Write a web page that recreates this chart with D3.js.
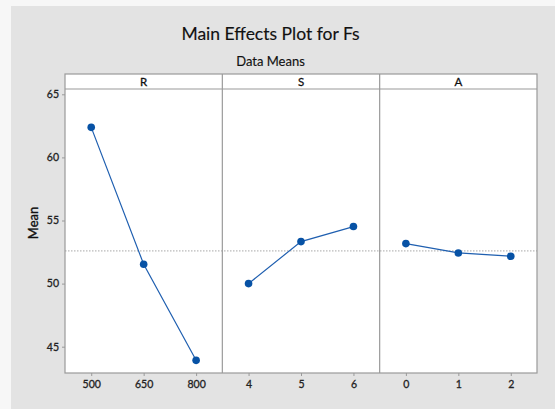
<!DOCTYPE html>
<html><head><meta charset="utf-8">
<script src="https://cdn.jsdelivr.net/npm/d3@7"></script>
<style>body{margin:0;background:#fff;}svg{display:block;}</style>
</head><body>
<script>
const factors = ["R", "S", "A"];
const levelsR = ["500", "650", "800"];
const levelsS = ["4", "5", "6"];
const levelsA = ["0", "1", "2"];
const meansR = [62.38, 51.53, 43.92];
const meansS = [50.00, 53.33, 54.52];
const meansA = [53.17, 52.43, 52.17];
const grandMean = 52.59;
const yTicks = [45, 50, 55, 60, 65];

(function(){
const W = 555, H = 409;
const svg = d3.select("body").append("svg").attr("width", W).attr("height", H);
svg.append("rect").attr("x", 0).attr("y", 0).attr("width", W).attr("height", H).attr("fill", "#f7f7f7");
svg.append("rect").attr("x", 11).attr("y", 6).attr("width", W - 11).attr("height", H - 6).attr("fill", "#e3e3e3");

const font = "Lato, sans-serif";
const pL = 65, pR = 537, pT = 74, stripB = 89, pB = 373;
const y = d3.scaleLinear().domain([42.916, 65.42]).range([pB, stripB]);
const panelX = d3.scaleBand().domain(factors).range([pL, pR]);

svg.append("text").attr("x", 270.5).attr("y", 40).attr("text-anchor", "middle")
  .attr("font-family", font).attr("font-size", 17.5).attr("fill", "#111")
  .attr("stroke", "#111").attr("stroke-width", 0.15).text("Main Effects Plot for Fs");
svg.append("text").attr("x", 270.5).attr("y", 66).attr("text-anchor", "middle")
  .attr("font-family", font).attr("font-size", 13).attr("fill", "#111")
  .attr("stroke", "#111").attr("stroke-width", 0.15).text("Data Means");

svg.append("rect").attr("x", pL).attr("y", pT).attr("width", pR - pL).attr("height", pB - pT).attr("fill", "#fff");

const data = [
  {f: "R", levels: levelsR, means: meansR},
  {f: "S", levels: levelsS, means: meansS},
  {f: "A", levels: levelsA, means: meansA}
];

svg.append("line").attr("x1", pL).attr("x2", pR).attr("y1", y(grandMean)).attr("y2", y(grandMean))
  .attr("stroke", "#a8a8a8").attr("stroke-width", 1).attr("stroke-dasharray", "1.5,1.5");

data.forEach(d => {
  const x0 = panelX(d.f), bw = panelX.bandwidth();
  const x = d3.scalePoint().domain(d.levels).range([x0, x0 + bw]).padding(0.5);
  const pts = d.levels.map((l, i) => [x(l), y(d.means[i])]);
  svg.append("path").attr("d", d3.line()(pts)).attr("fill", "none").attr("stroke", "#1f5fb0").attr("stroke-width", 1.2);
  svg.selectAll(null).data(pts).enter().append("circle")
    .attr("cx", p => p[0]).attr("cy", p => p[1]).attr("r", 3.8).attr("fill", "#0752a5");
  const ax = svg.append("g").attr("transform", `translate(0,${pB})`)
    .call(d3.axisBottom(x).tickSize(3).tickPadding(5));
  ax.select(".domain").remove();
  ax.selectAll("line").attr("stroke", "#999");
  ax.selectAll("text").attr("font-family", font).attr("font-size", 10.5).attr("fill", "#222")
    .attr("stroke", "#222").attr("stroke-width", 0.3);
  svg.append("text").attr("x", x0 + bw / 2).attr("y", pT + 12).attr("text-anchor", "middle")
    .attr("font-family", font).attr("font-size", 11.5).attr("fill", "#111")
    .attr("stroke", "#111").attr("stroke-width", 0.3).text(d.f);
});

svg.append("rect").attr("x", pL).attr("y", pT).attr("width", pR - pL).attr("height", pB - pT)
  .attr("fill", "none").attr("stroke", "#9a9a9a").attr("stroke-width", 1.2);
svg.append("line").attr("x1", pL).attr("x2", pR).attr("y1", stripB).attr("y2", stripB).attr("stroke", "#9a9a9a").attr("stroke-width", 1.2);
factors.slice(1).forEach(f => {
  svg.append("line").attr("x1", panelX(f)).attr("x2", panelX(f)).attr("y1", pT).attr("y2", pB)
    .attr("stroke", "#9a9a9a").attr("stroke-width", 1.2);
});

const ya = svg.append("g").attr("transform", `translate(${pL},0)`)
  .call(d3.axisLeft(y).tickValues(yTicks).tickSize(3).tickPadding(3));
ya.select(".domain").remove();
ya.selectAll("line").attr("stroke", "#999");
ya.selectAll("text").attr("font-family", font).attr("font-size", 10.5).attr("fill", "#222")
  .attr("stroke", "#222").attr("stroke-width", 0.3);

svg.append("text").attr("transform", `translate(38,223) rotate(-90)`).attr("text-anchor", "middle")
  .attr("font-family", font).attr("font-size", 13).attr("fill", "#111")
  .attr("stroke", "#111").attr("stroke-width", 0.35).text("Mean");
})();
</script>
</body></html>
